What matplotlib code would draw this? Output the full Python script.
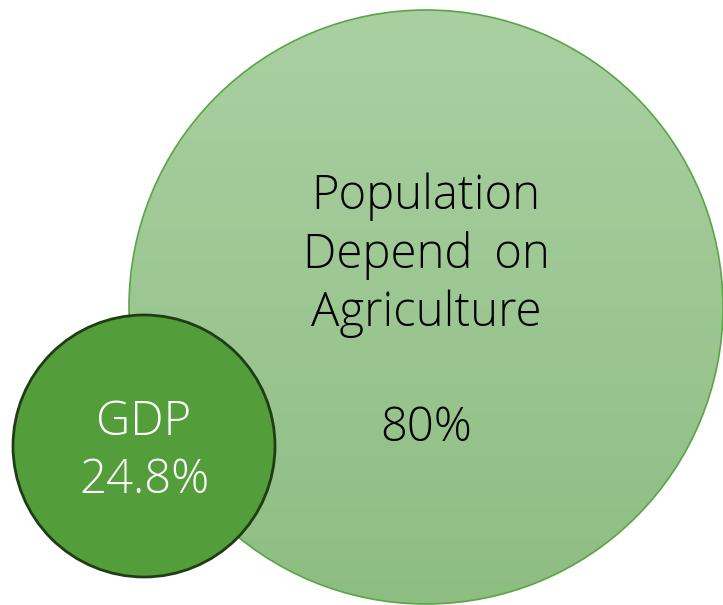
import numpy as np
import matplotlib.pyplot as plt
from matplotlib.patches import Circle
from matplotlib.colors import LinearSegmentedColormap

labels = ["Population\nDepend\u2009 on\nAgriculture", "GDP"]
values = [80, 24.8]

W, H = 723, 605
FONT = dict(family="Open Sans", fontsize=34, fontweight="light")

fig = plt.figure(figsize=(W / 100, H / 100), dpi=100)
ax = fig.add_axes([0, 0, 1, 1])
ax.set_xlim(0, W)
ax.set_ylim(H, 0)
ax.set_aspect("equal")
ax.axis("off")

# big circle with vertical gradient
cx, cy, r = 426, 307, 297
grad = LinearSegmentedColormap.from_list("g", ["#aad0a2", "#8ebd82"])
img = ax.imshow(np.linspace(0, 1, 256).reshape(-1, 1), cmap=grad,
                extent=[cx - r, cx + r, cy + r, cy - r], aspect="auto", zorder=1)
big = Circle((cx, cy), r, facecolor="none", edgecolor="#5aa545", lw=1.2, zorder=2)
ax.add_patch(big)
img.set_clip_path(Circle((cx, cy), r, transform=ax.transData))

ax.text(cx, 326, labels[0], ha="center", va="baseline", linespacing=1.26,
        color="black", zorder=5, **FONT)
ax.text(cx, 441, f"{values[0]:g}%", ha="center", va="baseline",
        color="black", zorder=5, **FONT)

# small circle
sx, sy, sr = 144, 446, 131
ax.add_patch(Circle((sx, sy), sr, facecolor="#539e3a", edgecolor="#1f3d14",
                    lw=2, zorder=3))
ax.text(sx, 493, f"{labels[1]}\n{values[1]}%", ha="center", va="baseline",
        linespacing=1.26, color="white", zorder=5, **FONT)

fig.savefig("out.png", dpi=100)
